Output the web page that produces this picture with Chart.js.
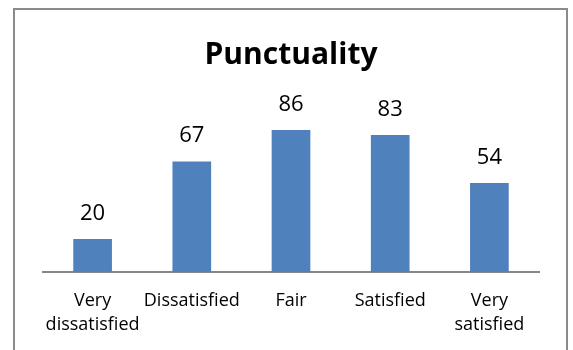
<!DOCTYPE html>
<html>
<head>
<meta charset="utf-8">
<title>Punctuality</title>
<script src="https://cdn.jsdelivr.net/npm/chart.js@4.4.0/dist/chart.umd.min.js"></script>
<style>
  html, body { margin: 0; padding: 0; background: #fff; overflow: hidden; }
  #wrap { position: relative; width: 573px; height: 350px; }
  #frame {
    position: absolute; left: 13px; top: 8px; width: 551px; height: 400px;
    border: 2px solid #8a8a8a; border-bottom: none;
  }
  #chart { position: absolute; left: 0; top: 0; }
</style>
</head>
<body>
<div id="wrap">
  <div id="frame"></div>
  <canvas id="chart" width="573" height="350"></canvas>
</div>
<script>
// === Data ===
const categories = [["Very", "dissatisfied"], "Dissatisfied", "Fair", "Satisfied", ["Very", "satisfied"]];
const counts = [20, 67, 86, 83, 54];
const chartTitle = "Punctuality";

const FONT = "'Open Sans', Lato, sans-serif";

// value labels above each bar
const valueLabels = {
  id: "valueLabels",
  afterDatasetsDraw(chart) {
    const ctx = chart.ctx;
    const meta = chart.getDatasetMeta(0);
    ctx.save();
    ctx.font = "22px " + FONT;
    ctx.fillStyle = "#000";
    ctx.textAlign = "center";
    ctx.textBaseline = "alphabetic";
    meta.data.forEach((bar, i) => {
      ctx.fillText(String(counts[i]), bar.x, bar.y - 19);
    });
    ctx.restore();
  }
};

new Chart(document.getElementById("chart"), {
  type: "bar",
  data: {
    labels: categories,
    datasets: [{
      data: counts,
      backgroundColor: "#4F81BD",
      borderWidth: 0,
      categoryPercentage: 1,
      barPercentage: 0.39
    }]
  },
  options: {
    responsive: false,
    animation: false,
    layout: { padding: { left: 43, right: 34, top: 0, bottom: 8 } },
    plugins: {
      legend: { display: false },
      tooltip: { enabled: false },
      title: {
        display: true,
        text: chartTitle,
        color: "#000",
        font: { family: FONT, size: 30, weight: "bold" },
        padding: { top: 37, bottom: 34 }
      }
    },
    scales: {
      y: { display: false, min: 0, max: 100 },
      x: {
        grid: { display: false, drawTicks: false },
        border: { display: true, color: "#868686", width: 2 },
        ticks: {
          color: "#000",
          font: { family: FONT, size: 18, lineHeight: 1.33 },
          maxRotation: 0,
          autoSkip: false,
          padding: 17
        },
        afterFit: (s) => { s.height = 70; }
      }
    }
  },
  plugins: [valueLabels]
});
</script>
</body>
</html>
